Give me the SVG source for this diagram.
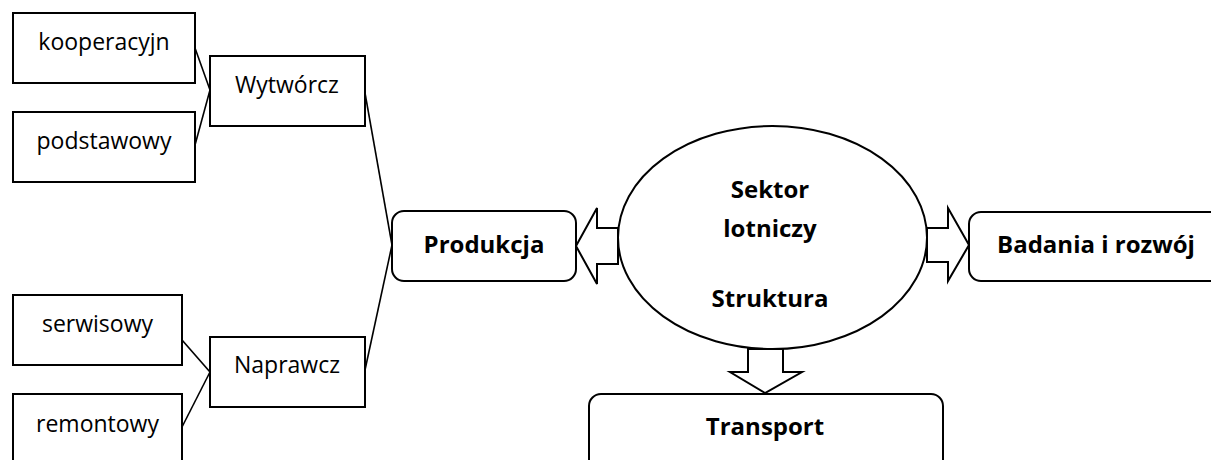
<svg xmlns="http://www.w3.org/2000/svg" width="1211" height="460" viewBox="0 0 1211 460">
<style>
.box{fill:#fff;stroke:#000;stroke-width:2}
.rbox{fill:#fff;stroke:#000;stroke-width:2}
.ln{fill:none;stroke:#000;stroke-width:1.6}
.arr{fill:#fff;stroke:#000;stroke-width:2;stroke-linejoin:miter}
.t{font-family:"Open Sans","Liberation Sans",sans-serif;font-size:23px;fill:#000;text-anchor:middle}
.b{font-family:"Open Sans","Liberation Sans",sans-serif;font-size:24px;font-weight:700;fill:#000;text-anchor:middle}
</style>
<rect width="1211" height="460" fill="#fff"/>
<g id="connectors">
<line class="ln" x1="195" y1="48" x2="210" y2="90"/>
<line class="ln" x1="195" y1="145" x2="210" y2="90"/>
<line class="ln" x1="182" y1="340" x2="210" y2="372"/>
<line class="ln" x1="182" y1="427" x2="210" y2="372"/>
<line class="ln" x1="365" y1="93" x2="392" y2="245"/>
<line class="ln" x1="365" y1="370" x2="392" y2="245"/>
<polygon class="arr" points="618,228 597,228 597,208 576,246 597,284 597,264 618,264"/>
<polygon class="arr" points="927,228 948,228 948,208 969,245 948,281 948,262 927,262"/>
<polygon class="arr" points="748,349 748,372 730,372 765,393 802,372 783,372 783,349"/>
</g>
<g id="n-kooperacyjn"><rect class="box" x="13" y="13" width="182" height="70"/><text class="t" x="104" y="50">kooperacyjn</text></g>
<g id="n-podstawowy"><rect class="box" x="13" y="112" width="182" height="70"/><text class="t" x="104" y="149">podstawowy</text></g>
<g id="n-wytworcz"><rect class="box" x="210" y="56" width="155" height="70"/><text class="t" x="287" y="93">Wytwórcz</text></g>
<g id="n-serwisowy"><rect class="box" x="13" y="295" width="169" height="70"/><text class="t" x="97.5" y="332">serwisowy</text></g>
<g id="n-remontowy"><rect class="box" x="13" y="394" width="169" height="80"/><text class="t" x="97.5" y="432">remontowy</text></g>
<g id="n-naprawcz"><rect class="box" x="210" y="337" width="155" height="70"/><text class="t" x="287" y="373">Naprawcz</text></g>
<g id="n-produkcja"><rect class="rbox" x="392" y="211" width="184" height="70" rx="12"/><text class="b" x="484" y="253">Produkcja</text></g>
<g id="n-sektor"><ellipse class="box" cx="772.5" cy="237.5" rx="154.5" ry="111.5"/>
<text class="b" x="770" y="198">Sektor</text>
<text class="b" x="770" y="237">lotniczy</text>
<text class="b" x="770" y="307">Struktura</text></g>
<g id="n-badania"><rect class="rbox" x="969" y="212" width="260" height="69" rx="12"/><text class="b" x="1096" y="253">Badania i rozwój</text></g>
<g id="n-transport"><rect class="rbox" x="589" y="394" width="354" height="90" rx="12"/><text class="b" x="765" y="435">Transport</text></g>
</svg>
